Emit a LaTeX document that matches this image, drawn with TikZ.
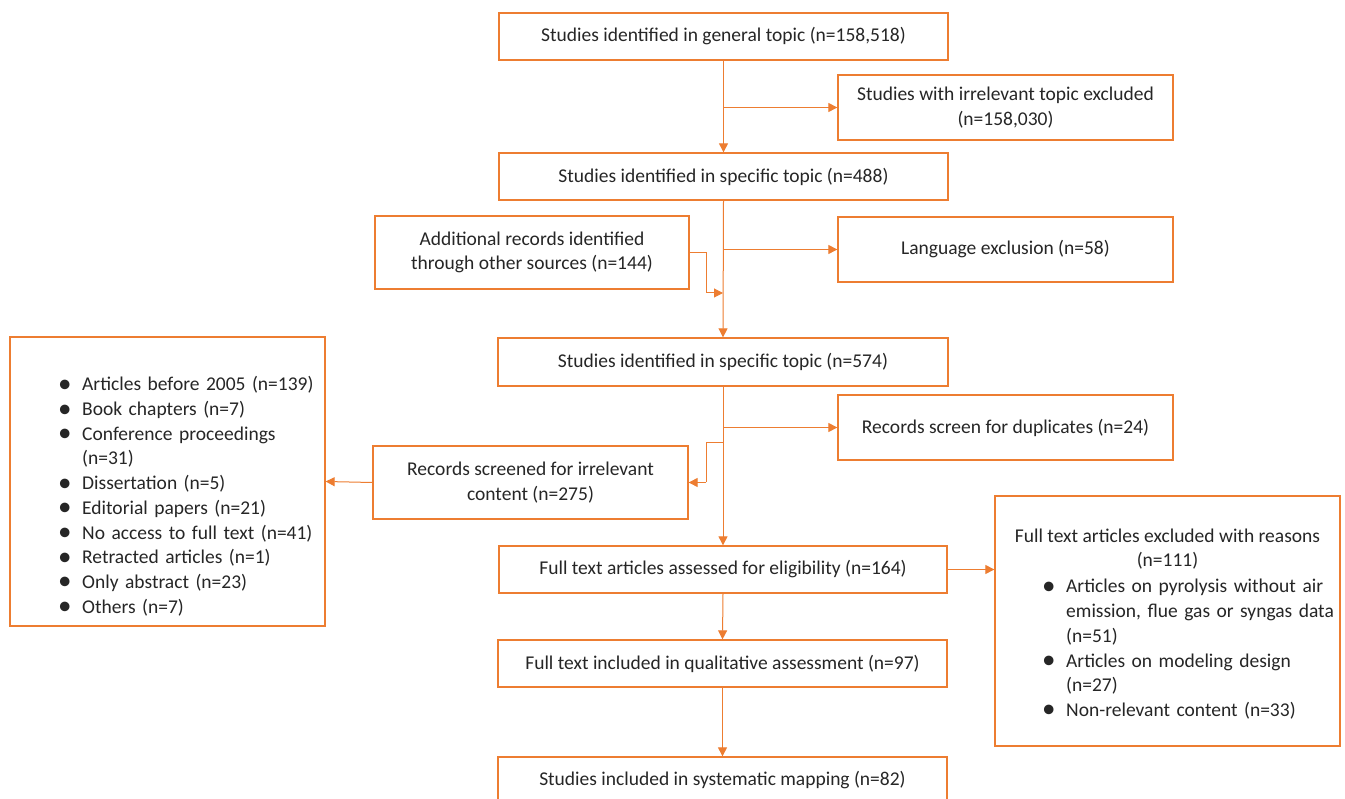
\documentclass[tikz,border=0pt]{standalone}
\usepackage{fontspec}
\setmainfont{Carlito}
\usetikzlibrary{arrows.meta}
\definecolor{org}{HTML}{ED7D31}
\newcommand{\bitem}[1]{\par\noindent\hangindent=24pt\hangafter=1\makebox[24pt][l]{\raisebox{-1.5pt}{\fontsize{27}{27}\selectfont\textbullet}}#1}
\begin{document}
\begin{tikzpicture}[x=1pt,y=-1pt,
  box/.style={draw=org, line width=1.3pt, align=center, inner sep=0pt,
    font=\fontsize{19.5}{24.5}\selectfont, text=black!85},
  arr/.style={draw=org, line width=1pt, -{Triangle[length=9pt,width=9pt]}},
  ln/.style={draw=org, line width=1pt},
  lst/.style={inner sep=0pt, align=left, font=\fontsize{19.5}{24.7}\selectfont, text=black!85}]
\useasboundingbox (0,0) rectangle (1345,799);
\fill[white] (0,0) rectangle (1345,799);
% boxes
\node[box, minimum width=449, minimum height=47] (b1) at (723.5,36.5) {Studies identified in general topic (n=158,518)};
\node[box, minimum width=335, minimum height=65] (b2) at (1005.5,107.5) {Studies with irrelevant topic excluded\\(n=158,030)};
\node[box, minimum width=449, minimum height=47] (b3) at (723.5,176.5) {Studies identified in specific topic (n=488)};
\node[box, minimum width=314, minimum height=73] (badd) at (532,252.5) {Additional records identified\\through other sources (n=144)};
\node[box, minimum width=335, minimum height=65] (blang) at (1005.5,249.5) {Language exclusion (n=58)};
\node[box, minimum width=450, minimum height=48] (b4) at (723,362) {Studies identified in specific topic (n=574)};
\node[box, minimum width=335, minimum height=65] (bdup) at (1005.5,427.5) {Records screen for duplicates (n=24)};
\node[box, minimum width=315, minimum height=73] (birr) at (530.5,482.5) {Records screened for irrelevant\\content (n=275)};
\node[box, minimum width=315, minimum height=289] (bleft) at (167.5,481.5) {};
\node[box, minimum width=448, minimum height=47] (belig) at (723,569.5) {Full text articles assessed for eligibility (n=164)};
\node[box, minimum width=345, minimum height=250] (bright) at (1167.5,621) {};
\node[box, minimum width=449, minimum height=47] (b97) at (722.5,663.5) {Full text included in qualitative assessment (n=97)};
\begin{scope}
\clip (0,0) rectangle (1345,799);
\node[box, minimum width=449, minimum height=47] (blast) at (722.5,780.5) {Studies included in systematic mapping (n=82)};
\end{scope}
% list texts
\node[lst, text width=300, anchor=north west] (tleft) at (58,366) {%
\bitem{Articles before 2005 (n=139)}
\bitem{Book chapters (n=7)}
\bitem{Conference proceedings\newline (n=31)}
\bitem{Dissertation (n=5)}
\bitem{Editorial papers (n=21)}
\bitem{No access to full text (n=41)}
\bitem{Retracted articles (n=1)}
\bitem{Only abstract (n=23)}
\bitem{Others (n=7)}};
\node[lst, align=center, anchor=center] (thead) at (1167.5,549) {Full text articles excluded with reasons\\(n=111)};
\node[lst, text width=300, anchor=north west] (tright) at (1042,568) {%
\bitem{Articles on pyrolysis without air\newline emission, flue gas or syngas data\newline (n=51)}
\bitem{Articles on modeling design\newline (n=27)}
\bitem{Non-relevant content (n=33)}};
% junction coordinates
\coordinate (j1) at (723,107.5);
\coordinate (j2) at (723,249.5);
\coordinate (j3) at (723,293);
\coordinate (k3) at (706,293);
\coordinate (j4) at (723,427.5);
\coordinate (j5) at (723,443);
\coordinate (k5) at (706,482.5);
% connectors
\draw[arr] (b1.south) -- (b3.north);
\draw[arr] (j1) -- (b2.west);
\draw[arr] (b3.south) -- (b4.north);
\draw[arr] (j2) -- (blang.west);
\draw[ln] (badd.east) -| (k3);
\draw[arr] (k3) -- (j3);
\draw[arr] (b4.south) -- (belig.north);
\draw[arr] (j4) -- (bdup.west);
\draw[ln] (j5) -| (k5);
\draw[arr] (k5) -- (birr.east);
\draw[arr] (birr.west) -- (bleft.east);
\draw[arr] (belig.east) -- (belig.east -| bright.west);
\draw[arr] (belig.south) -- (b97.north);
\draw[arr] (b97.south) -- (blast.north);
\end{tikzpicture}
\end{document}
